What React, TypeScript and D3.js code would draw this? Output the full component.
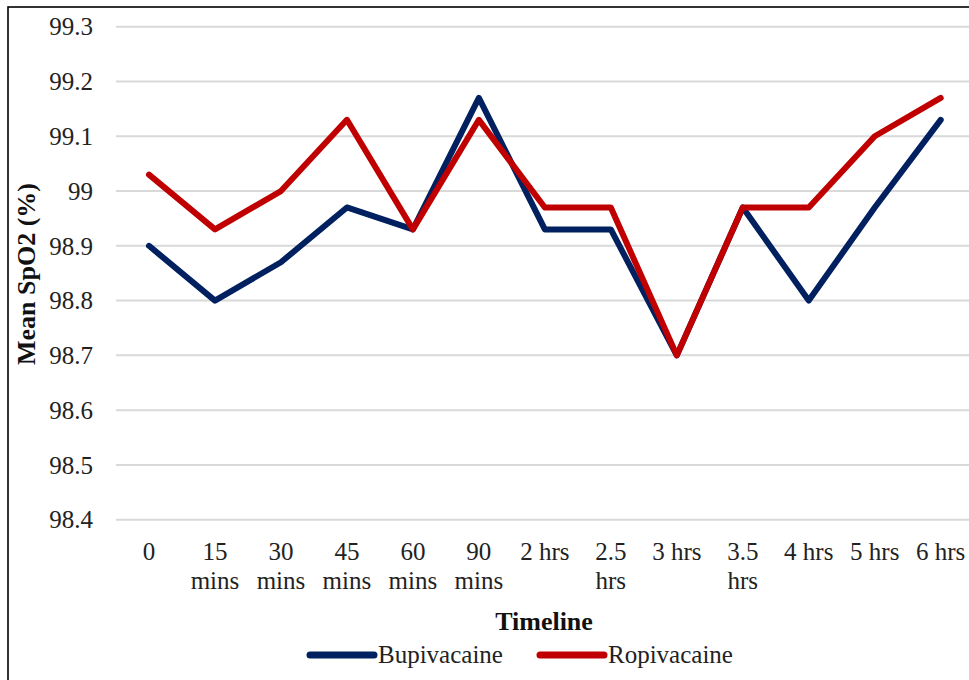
import React from "react";
import * as d3 from "d3";

// Timeline categories (x axis); "\n" splits a label onto two lines
const timeline = [
  "0",
  "15\nmins",
  "30\nmins",
  "45\nmins",
  "60\nmins",
  "90\nmins",
  "2 hrs",
  "2.5\nhrs",
  "3 hrs",
  "3.5\nhrs",
  "4 hrs",
  "5 hrs",
  "6 hrs",
];

// Mean SpO2 (%) per time point
const bupivacaine = [98.9, 98.8, 98.87, 98.97, 98.93, 99.17, 98.93, 98.93, 98.7, 98.97, 98.8, 98.97, 99.13];
const ropivacaine = [99.03, 98.93, 99.0, 99.13, 98.93, 99.13, 98.97, 98.97, 98.7, 98.97, 98.97, 99.1, 99.17];

const yTicks = [98.4, 98.5, 98.6, 98.7, 98.8, 98.9, 99, 99.1, 99.2, 99.3];

const seriesList = [
  { name: "Bupivacaine", values: bupivacaine, color: "#002060" },
  { name: "Ropivacaine", values: ropivacaine, color: "#C00000" },
];

const W = 969;
const H = 680;
const FONT = '"Liberation Serif", "Times New Roman", "DejaVu Serif", serif';
const textStyle: React.CSSProperties = { fontFamily: FONT };

export default function App() {
  const x = d3.scaleBand<string>().domain(timeline).range([116, 973.7]).padding(0);
  const cx = (c: string) => (x(c) ?? 0) + x.bandwidth() / 2;
  const y = d3.scaleLinear().domain([98.4, 99.3]).range([519.7, 26.7]);

  const line = d3
    .line<number>()
    .x((_, i) => cx(timeline[i]))
    .y((d) => y(d));

  return (
    <svg
      width={W}
      height={H}
      style={{ position: "absolute", left: 0, top: 0, background: "#fff", fontFamily: FONT }}
    >
      <rect x={0} y={0} width={W} height={H} fill="#fff" />
      {/* frame (left and top edges visible) */}
      <rect x={8} y={7} width={W + 20} height={H + 20} fill="none" stroke="#000" strokeWidth={1.6} />

      {/* horizontal gridlines */}
      {yTicks.map((t) => (
        <line key={t} x1={116} x2={W} y1={y(t)} y2={y(t)} stroke="#d9d9d9" strokeWidth={2} />
      ))}

      {/* y tick labels */}
      {yTicks.map((t) => (
        <text key={t} x={93} y={y(t)} dy="0.35em" textAnchor="end" fontSize={25} fill="#222" style={textStyle}>
          {d3.format("")(+t.toFixed(1))}
        </text>
      ))}

      {/* x tick labels */}
      {timeline.map((c) => (
        <text key={c} x={cx(c)} y={560} textAnchor="middle" fontSize={25} fill="#222" style={textStyle}>
          {c.split("\n").map((part, j) => (
            <tspan key={j} x={cx(c)} dy={j === 0 ? 0 : 29}>
              {part}
            </tspan>
          ))}
        </text>
      ))}

      {/* axis titles */}
      <text x={544} y={630} textAnchor="middle" fontSize={26} fontWeight="bold" fill="#111" style={textStyle}>
        Timeline
      </text>
      <text
        transform="translate(35,274) rotate(-90)"
        textAnchor="middle"
        fontSize={26}
        fontWeight="bold"
        fill="#111"
        style={textStyle}
      >
        Mean SpO2 (%)
      </text>

      {/* series lines */}
      {seriesList.map((s) => (
        <path
          key={s.name}
          d={line(s.values) ?? ""}
          fill="none"
          stroke={s.color}
          strokeWidth={6}
          strokeLinejoin="round"
          strokeLinecap="round"
        />
      ))}

      {/* legend */}
      {seriesList.map((s, i) => {
        const lx = i === 0 ? 310 : 540;
        return (
          <g key={s.name}>
            <line x1={lx} x2={lx + 64} y1={655} y2={655} stroke={s.color} strokeWidth={7} strokeLinecap="round" />
            <text x={lx + 68} y={663} fontSize={25} fill="#222" style={textStyle}>
              {s.name}
            </text>
          </g>
        );
      })}
    </svg>
  );
}
